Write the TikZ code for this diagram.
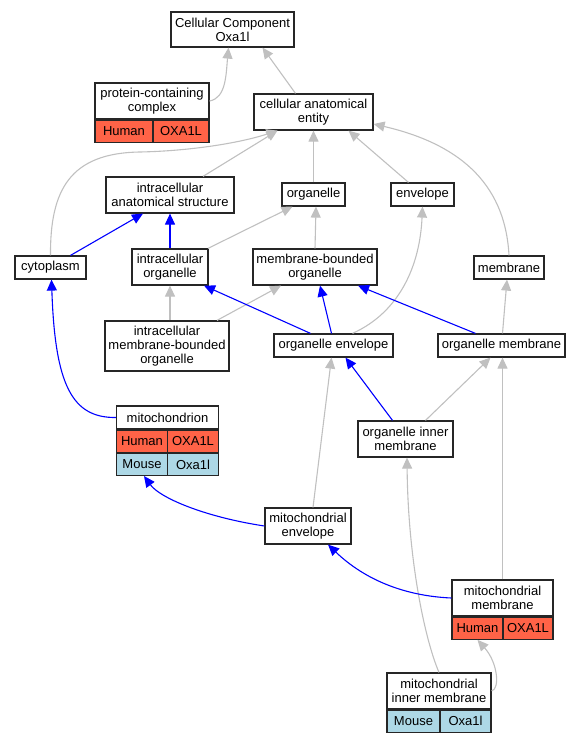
\documentclass[tikz,border=0pt]{standalone}
\usepackage{fontspec}
\setmainfont{Liberation Sans}
\usepackage{xcolor}
\usetikzlibrary{arrows.meta, calc}
\definecolor{edgegray}{HTML}{C0C0C0}
\definecolor{humred}{HTML}{FF6347}
\definecolor{musblue}{HTML}{ADD8E6}
\tikzset{
    term/.style = {draw=black!85, line width=1.2pt, fill=white, align=center,
        inner sep=0pt, font=\fontsize{13}{14}\selectfont},
    hum/.style = {term, fill=humred, minimum height=22pt},
    mus/.style = {term, fill=musblue, minimum height=22pt},
    isa/.style = {draw=edgegray, line width=1.1pt, -{Triangle[length=11pt,width=10pt]}},
    partof/.style = {draw=blue, line width=1.1pt, -{Triangle[length=11pt,width=10pt]}},
}

\begin{document}
\begin{tikzpicture}[x=1pt, y=-1pt]
\useasboundingbox (0,0) rectangle (580,741);

\node[term, minimum width=123pt, minimum height=35pt] (cc) at (232.5,29.5) {Cellular Component\\Oxa1l};

\node[term, minimum width=114pt, minimum height=36pt] (pcc) at (152,101) {protein-containing\\complex};
\node[hum, minimum width=58pt, anchor=north west] (pcc-hu) at (pcc.south west) {Human};
\node[hum, minimum width=56pt, anchor=north east] (pcc-hs) at (pcc.south east) {OXA1L};

\node[term, minimum width=119pt, minimum height=36pt] (cae) at (313.5,112) {cellular anatomical\\entity};
\node[term, minimum width=128pt, minimum height=36pt] (ias) at (170,195) {intracellular\\anatomical structure};
\node[term, minimum width=63pt, minimum height=23pt] (org) at (313.5,194.5) {organelle};
\node[term, minimum width=63pt, minimum height=23pt] (env) at (422.5,194.5) {envelope};

\node[term, minimum width=71pt, minimum height=23pt] (cyto) at (50.5,267.5) {cytoplasm};
\node[term, minimum width=76pt, minimum height=36pt] (io) at (170,267) {intracellular\\organelle};
\node[term, minimum width=124pt, minimum height=36pt] (mbo) at (315,267) {membrane-bounded\\organelle};
\node[term, minimum width=70pt, minimum height=23pt] (memb) at (509,267.5) {membrane};

\node[term, minimum width=124pt, minimum height=50pt] (imbo) at (167,346) {intracellular\\membrane-bounded\\organelle};
\node[term, minimum width=119pt, minimum height=23pt] (oenv) at (333.5,345.5) {organelle envelope};
\node[term, minimum width=127pt, minimum height=23pt] (omem) at (501.5,345.5) {organelle membrane};

\node[term, minimum width=102pt, minimum height=23pt] (mito) at (167.5,417.5) {mitochondrion};
\node[hum, minimum width=51pt, anchor=north west] (mito-hu) at (mito.south west) {Human};
\node[hum, minimum width=51pt, anchor=north east] (mito-hs) at (mito.south east) {OXA1L};
\node[mus, minimum width=51pt, anchor=north west] (mito-mo) at (mito-hu.south west) {Mouse};
\node[mus, minimum width=51pt, anchor=north east] (mito-mm) at (mito-hs.south east) {Oxa1l};

\node[term, minimum width=95pt, minimum height=36pt] (oim) at (405.5,439) {organelle inner\\membrane};
\node[term, minimum width=86pt, minimum height=36pt] (menv) at (308,526) {mitochondrial\\envelope};

\node[term, minimum width=101pt, minimum height=36pt] (mmem) at (502.5,598) {mitochondrial\\membrane};
\node[hum, minimum width=51pt, anchor=north west] (mmem-hu) at (mmem.south west) {Human};
\node[hum, minimum width=50pt, anchor=north east] (mmem-hs) at (mmem.south east) {OXA1L};

\node[term, minimum width=104pt, minimum height=36pt] (mim) at (439,691) {mitochondrial\\inner membrane};
\node[mus, minimum width=53pt, anchor=north west] (mim-mo) at (mim.south west) {Mouse};
\node[mus, minimum width=51pt, anchor=north east] (mim-mm) at (mim.south east) {Oxa1l};

\draw[isa] (pcc.east) .. controls (226,98) and (226,75) .. ([xshift=-4pt]cc.south);
\draw[isa] ([xshift=-18pt]cae.north) -- ([xshift=30pt]cc.south);
\draw[isa] ([xshift=33pt]ias.north) -- ([xshift=-36pt]cae.south);
\draw[isa] (cyto.north) .. controls (50,190) and (70,153) .. (140,152)
    .. controls (190,151) and (240,143) .. ([xshift=-36pt]cae.south);
\draw[isa] (org.north) -- (cae.south);
\draw[isa] ([xshift=-14pt]env.north) -- ([xshift=35pt]cae.south);
\draw[isa] (memb.north) .. controls (505,180) and (455,143) .. ([yshift=-12pt]cae.east);
\draw[isa] ([xshift=38pt]io.north) -- ([xshift=-21pt]org.south);
\draw[isa] (mbo.north) -- ([xshift=1pt]mbo.north |- org.south);
\draw[isa] ([xshift=3pt]imbo.north) -- (io.south);
\draw[isa] ([xshift=50pt]imbo.north) -- ([xshift=-34pt]mbo.south);
\draw[isa] ([xshift=19pt]oenv.north) .. controls (400,312) and (420,265) .. (env.south);
\draw[isa] ([xshift=1pt]omem.north) -- ([xshift=-2pt]memb.south);
\draw[isa] ([xshift=20pt]oim.north) -- ([xshift=-11pt]omem.south);
\draw[isa] ([xshift=5pt]menv.north) -- ([xshift=-2pt]oenv.south);
\draw[isa] (mmem.north) -- ([xshift=1pt]omem.south);
\draw[isa] (mim.north) .. controls (425,640) and (408,560) .. ([xshift=1.5pt]oim.south);
\draw[isa] (mim.east) .. controls (500,689) and (498,663) .. (mmem-hu.south);

\draw[partof] ([xshift=20pt]cyto.north) -- ([xshift=-27pt]ias.south);
\draw[partof] (io.north) -- (ias.south);
\draw[partof] ([xshift=-23pt]oenv.north) -- ([xshift=34pt]io.south);
\draw[partof] ([xshift=-2pt]oenv.north) -- ([xshift=5pt]mbo.south);
\draw[partof] ([xshift=-26pt]omem.north) -- ([xshift=43pt]mbo.south);
\draw[partof] ([xshift=-13pt]oim.north) -- ([xshift=12pt]oenv.south);
\draw[partof] (mito.west) .. controls (72,418) and (55,385) .. ([xshift=1pt]cyto.south);
\draw[partof] (menv.west) .. controls (205,517) and (160,498) .. ([xshift=2pt]mito-mo.south);
\draw[partof] (mmem.west) .. controls (405,596) and (365,580) .. ([xshift=20pt]menv.south);
\end{tikzpicture}
\end{document}
